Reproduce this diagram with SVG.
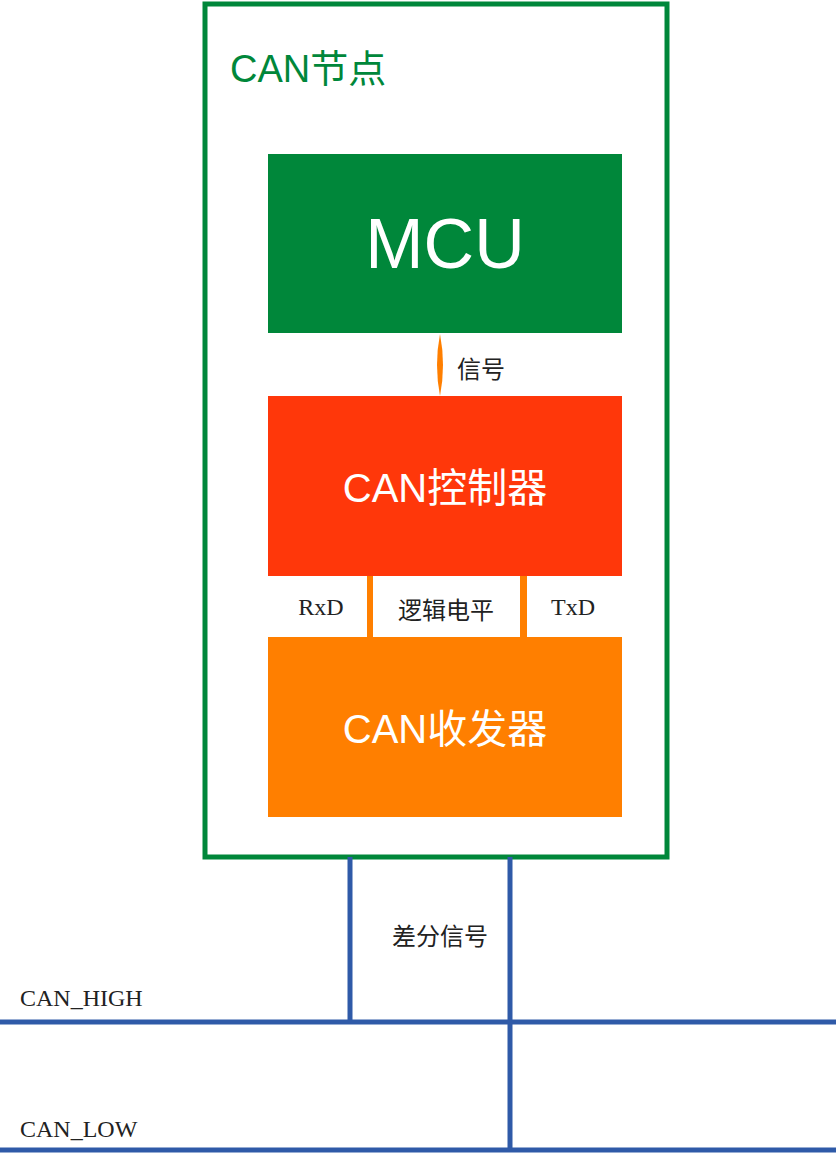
<svg xmlns="http://www.w3.org/2000/svg" width="836" height="1157" viewBox="0 0 836 1157">
<style>
.w{font-family:"Liberation Sans","Noto Sans CJK SC",sans-serif;fill:#fff;text-anchor:middle}
.k{font-family:"Liberation Serif","Noto Sans CJK SC",serif;fill:#222;font-size:24px}
.b{stroke:#2f5aa8;stroke-width:5;fill:none}
</style>
<rect width="836" height="1157" fill="#fff"/>
<g id="node">
<rect x="205" y="4" width="462" height="853" fill="none" stroke="#00873a" stroke-width="5"/>
<text x="230" y="82" font-family="Liberation Sans,Noto Sans CJK SC,sans-serif" font-size="38" fill="#00873a">CAN节点</text>
</g>
<g id="mcu"><rect x="268" y="154" width="354" height="179" fill="#00873a"/><text class="w" x="445" y="268" font-size="70">MCU</text></g>
<g id="ctrl"><rect x="268" y="396" width="354" height="180" fill="#ff370a"/><text class="w" x="445" y="502" font-size="40">CAN控制器</text></g>
<g id="xcvr"><rect x="268" y="637" width="354" height="180" fill="#ff7f00"/><text class="w" x="445" y="743" font-size="40">CAN收发器</text></g>
<g id="connectors">
<path d="M440 334 Q446 365 440 396 Q434 365 440 334Z" fill="#ff7f00"/>
<rect x="367" y="576" width="6" height="61" fill="#ff7f00"/>
<rect x="520" y="576" width="7" height="61" fill="#ff7f00"/>
<path class="b" d="M350 857V1022M510 857V1150M0 1022H836M0 1150H836"/>
</g>
<g id="labels">
<text class="k" x="457" y="378">信号</text>
<text class="k" x="321" y="615" text-anchor="middle">RxD</text>
<text class="k" x="446" y="619" text-anchor="middle">逻辑电平</text>
<text class="k" x="573" y="615" text-anchor="middle">TxD</text>
<text class="k" x="440" y="945" text-anchor="middle">差分信号</text>
<text class="k" x="20" y="1006">CAN_HIGH</text>
<text class="k" x="20" y="1137">CAN_LOW</text>
</g>
</svg>
